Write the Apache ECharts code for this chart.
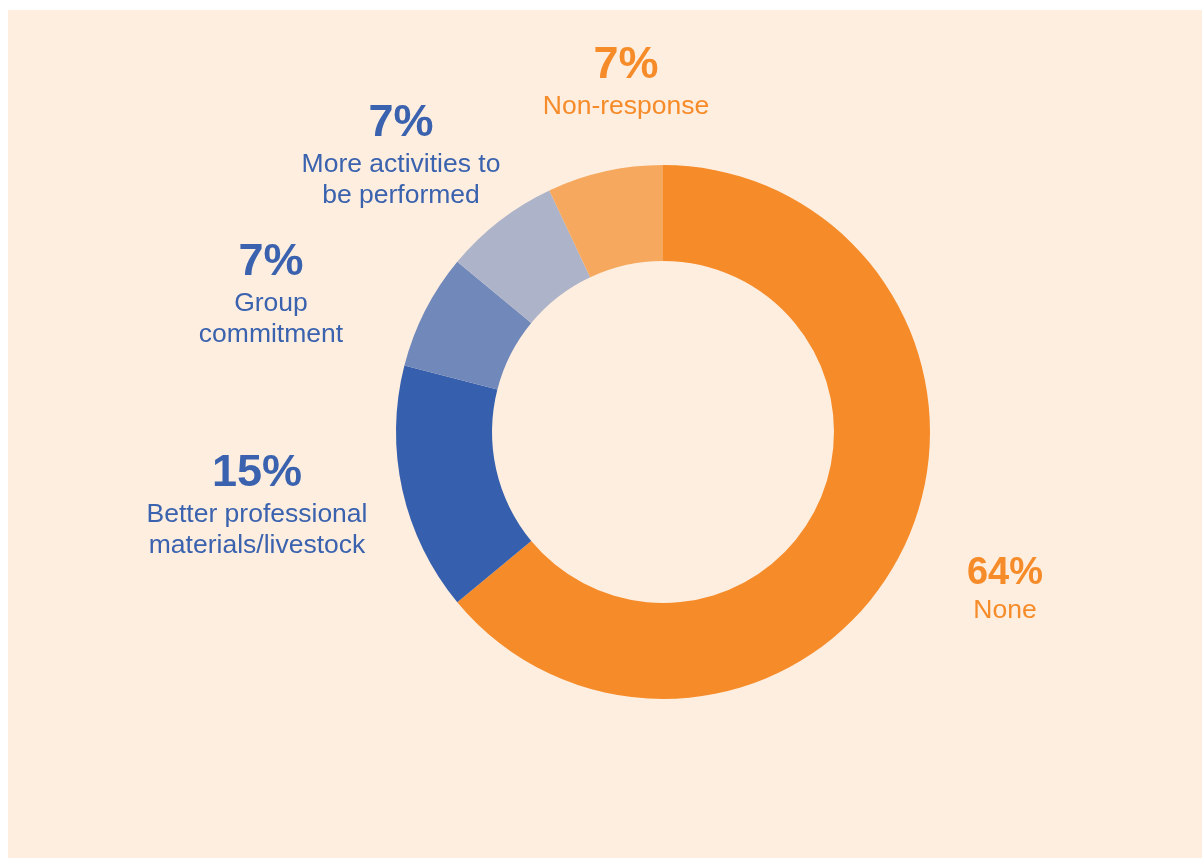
<!DOCTYPE html>
<html>
<head>
<meta charset="utf-8">
<script src="https://cdn.jsdelivr.net/npm/echarts@6/dist/echarts.min.js"></script>
<style>
html,body{margin:0;padding:0;background:#ffffff;}
#chart{width:1202px;height:861px;}
</style>
</head>
<body>
<div id="chart"></div>
<script>
const categories = ['None', 'Better professional\nmaterials/livestock', 'Group\ncommitment', 'More activities to\nbe performed', 'Non-response'];
const values = [64, 15, 7, 7, 7];
const sliceColors = ['#F68B29', '#365FAD', '#7088BA', '#ADB3C8', '#F6A95E'];
const textColors = ['#F68B29', '#3A62AE', '#3A62AE', '#3A62AE', '#F68B29'];
const pctSizes = [38, 45, 45, 45, 45];

// label anchor: centre x, centre y of the percentage line
const labelAnchors = [[1005, 574], [257, 474], [271, 263], [401, 124], [626, 66]];

const chart = echarts.init(document.getElementById('chart'));
const data = categories.map((c, i) => ({
  name: c,
  value: values[i],
  itemStyle: { color: sliceColors[i] },
  label: {
    formatter: '{p|' + values[i] + '%}\n{t|' + c.split('\n').join('}\n{t|') + '}',
    rich: {
      p: { fontSize: pctSizes[i], fontWeight: 'bold', color: textColors[i], lineHeight: i === 0 ? 43 : 51, align: 'center', fontFamily: 'Liberation Sans, Arial, sans-serif' },
      t: { fontSize: 26.5, color: textColors[i], lineHeight: 31, align: 'center', fontFamily: 'Liberation Sans, Arial, sans-serif' }
    }
  }
}));

chart.setOption({
  animation: false,
  graphic: [{
    type: 'rect', z: -10, silent: true,
    shape: { x: 8, y: 10, width: 1194, height: 848 },
    style: { fill: '#FEEEDF' }
  }],
  series: [{
    type: 'pie',
    center: [663, 432],
    radius: [171, 267],
    startAngle: 90,
    clockwise: true,
    avoidLabelOverlap: false,
    label: { show: true, position: 'outside' },
    labelLine: { show: false },
    labelLayout: function (p) {
      const a = labelAnchors[p.dataIndex];
      const half = p.dataIndex === 0 ? 21.5 : 25.5;
      return { x: a[0], y: a[1] - half, align: 'center', verticalAlign: 'top' };
    },
    emphasis: { disabled: true },
    data: data
  }]
});
</script>
</body>
</html>
